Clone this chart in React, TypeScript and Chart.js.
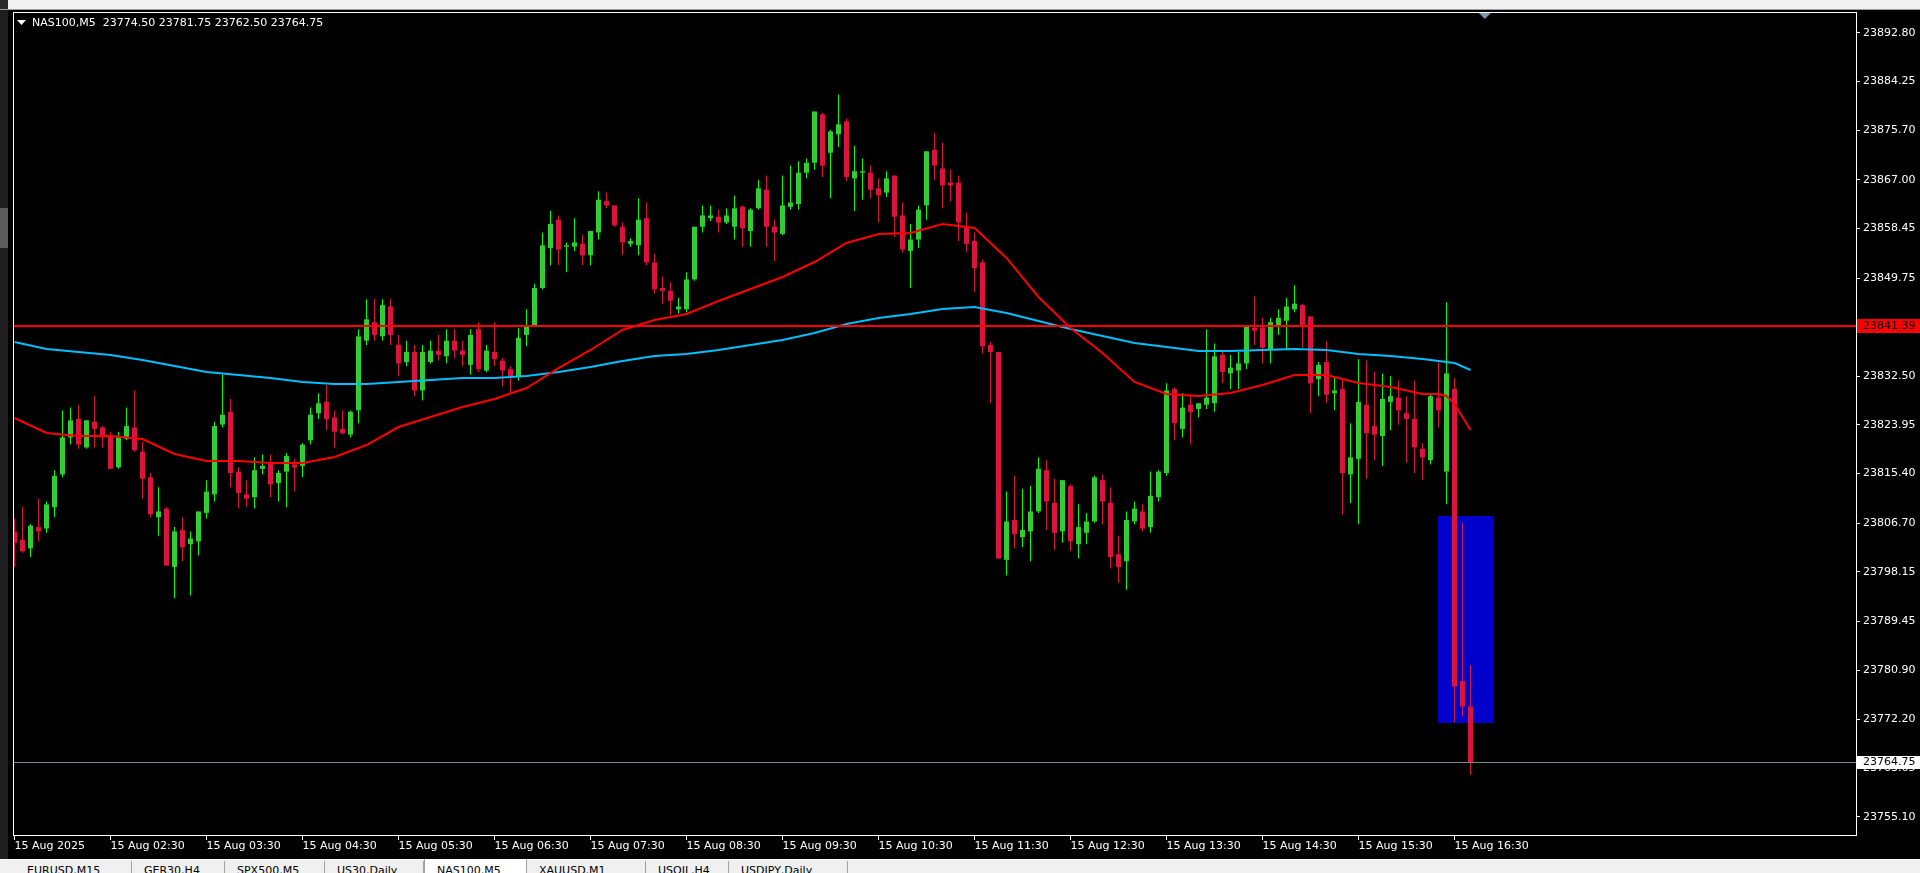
import React, { useEffect, useRef } from 'react';
import { Chart, registerables } from 'chart.js';

Chart.register(...registerables);

// ---- NAS100 M5 candles, 15 Aug 2025 01:30 -> 16:40 (index 0 = 01:30) ----
const opens = [
  23805.25, 23803.75, 23802.25, 23806.0, 23805.75, 23809.5, 23815.25, 23821.75, 23825.0, 23820.0, 23824.5, 23823.5,
  23822.0, 23816.5, 23821.5, 23823.5, 23819.25, 23814.75, 23807.75, 23809.25, 23799.0, 23805.5, 23803.0, 23803.5,
  23808.5, 23811.75, 23824.0, 23826.25, 23815.75, 23811.75, 23811.25, 23816.25, 23817.25, 23813.75, 23815.75, 23817.0,
  23816.75, 23821.25, 23826.0, 23828.0, 23825.25, 23823.25, 23822.25, 23826.5, 23838.75, 23842.0, 23839.5, 23844.75,
  23838.0, 23835.0, 23836.75, 23830.0, 23835.0, 23837.0, 23836.0, 23838.75, 23837.0, 23834.5, 23840.75, 23833.5,
  23836.75, 23835.25, 23833.75, 23832.5, 23839.75, 23841.5, 23848.0, 23855.0, 23860.0, 23855.25, 23855.25, 23855.75,
  23853.75, 23857.75, 23863.25, 23862.5, 23858.75, 23855.75, 23855.5, 23860.25, 23852.5, 23848.0, 23847.5, 23844.25,
  23844.25, 23849.5, 23858.75, 23860.25, 23860.5, 23859.5, 23858.75, 23862.25, 23858.0, 23862.0, 23865.25, 23858.75,
  23857.5, 23862.25, 23862.75, 23868.25, 23870.0, 23878.5, 23871.75, 23875.0, 23877.25, 23867.25, 23868.25, 23868.25,
  23865.5, 23864.75, 23867.75, 23860.75, 23854.5, 23856.5, 23862.5, 23872.25, 23869.0, 23866.5, 23866.5, 23858.75,
  23856.25, 23852.5, 23838.0, 23836.75, 23800.25, 23807.25, 23804.25, 23805.25, 23808.75, 23816.0, 23810.25, 23805.25,
  23813.25, 23803.0, 23805.0, 23807.0, 23814.25, 23810.25, 23801.25, 23800.0, 23807.0, 23808.75, 23806.0, 23811.25,
  23815.5, 23830.25, 23823.25, 23827.5, 23826.75, 23827.5, 23827.75, 23836.25, 23833.0, 23833.5, 23834.75, 23841.0,
  23841.0, 23837.25, 23841.5, 23842.25, 23844.25, 23845.0, 23843.0, 23832.0, 23835.0, 23829.5, 23830.25, 23815.25,
  23818.0, 23827.5, 23823.75, 23822.0, 23828.0, 23828.75, 23826.0, 23825.0, 23819.75, 23817.75, 23828.75, 23815.75,
  23830.25, 23779.0, 23774.5,
];
const highs = [
  23807.5, 23809.5, 23806.5, 23811.0, 23810.5, 23816.0, 23826.5, 23827.0, 23827.5, 23824.75, 23829.0, 23823.75,
  23822.75, 23822.75, 23827.0, 23830.0, 23821.0, 23815.5, 23813.0, 23809.5, 23806.0, 23807.75, 23805.25, 23808.75,
  23814.25, 23824.5, 23832.75, 23828.5, 23816.5, 23814.25, 23818.25, 23818.75, 23818.75, 23816.0, 23819.0, 23818.0,
  23820.75, 23827.0, 23829.5, 23831.0, 23826.5, 23826.5, 23826.5, 23840.75, 23846.0, 23846.0, 23846.0, 23846.0,
  23839.75, 23838.75, 23838.0, 23838.0, 23838.75, 23839.75, 23840.75, 23840.75, 23838.75, 23840.75, 23842.0, 23838.0,
  23842.0, 23835.75, 23834.25, 23841.0, 23844.25, 23848.75, 23857.75, 23861.5, 23860.75, 23856.0, 23860.25, 23857.25,
  23858.0, 23865.0, 23864.75, 23862.5, 23859.5, 23856.75, 23863.75, 23863.0, 23854.0, 23850.0, 23849.0, 23846.25,
  23850.75, 23858.75, 23862.5, 23862.5, 23861.75, 23862.0, 23864.25, 23862.5, 23862.0, 23867.0, 23867.75, 23860.0,
  23867.75, 23869.5, 23870.25, 23870.75, 23879.0, 23878.75, 23875.75, 23882.0, 23877.75, 23873.0, 23870.75, 23869.5,
  23867.25, 23868.5, 23867.75, 23863.0, 23859.25, 23862.5, 23872.0, 23875.25, 23873.5, 23868.75, 23867.75, 23861.25,
  23857.75, 23853.0, 23838.5, 23836.75, 23812.25, 23815.0, 23812.75, 23813.25, 23818.25, 23817.75, 23814.5, 23814.25,
  23813.5, 23810.0, 23808.5, 23815.0, 23815.25, 23813.0, 23804.5, 23808.75, 23810.5, 23810.0, 23815.75, 23816.0,
  23831.25, 23830.5, 23829.5, 23829.25, 23827.75, 23840.75, 23838.25, 23836.75, 23836.25, 23836.75, 23841.25, 23846.5,
  23842.75, 23842.75, 23844.25, 23846.25, 23848.5, 23845.25, 23843.0, 23835.0, 23838.75, 23832.25, 23832.0, 23824.25,
  23835.5, 23835.25, 23833.25, 23833.0, 23832.5, 23831.75, 23829.0, 23831.75, 23820.75, 23829.25, 23835.25, 23845.5,
  23832.25, 23806.75, 23781.75,
];
const lows = [
  23799.0, 23801.5, 23800.75, 23803.5, 23805.0, 23807.75, 23814.75, 23820.5, 23819.75, 23819.75, 23820.0, 23820.0,
  23816.25, 23816.25, 23821.25, 23819.25, 23811.0, 23807.75, 23804.5, 23799.25, 23793.5, 23800.0, 23794.0, 23801.0,
  23807.5, 23810.5, 23823.5, 23813.0, 23809.25, 23809.5, 23809.25, 23815.25, 23811.25, 23810.5, 23809.5, 23812.25,
  23814.75, 23820.5, 23825.0, 23823.0, 23820.0, 23822.25, 23821.75, 23824.25, 23838.0, 23838.75, 23838.75, 23838.0,
  23832.5, 23834.25, 23829.0, 23828.25, 23834.75, 23835.25, 23834.75, 23835.75, 23834.25, 23832.75, 23833.25, 23833.25,
  23834.25, 23830.75, 23829.5, 23831.75, 23837.75, 23841.25, 23847.75, 23852.0, 23852.0, 23850.75, 23854.5, 23852.0,
  23852.0, 23856.5, 23862.0, 23858.75, 23853.75, 23855.25, 23853.75, 23852.0, 23847.0, 23845.25, 23843.25, 23843.5,
  23843.75, 23849.25, 23857.75, 23859.75, 23857.75, 23859.25, 23856.5, 23855.25, 23855.25, 23861.75, 23855.25, 23852.75,
  23857.25, 23861.75, 23861.75, 23867.25, 23868.75, 23867.5, 23863.75, 23872.75, 23866.75, 23861.5, 23863.5, 23863.75,
  23859.5, 23864.0, 23857.0, 23854.25, 23848.0, 23855.0, 23860.0, 23867.0, 23862.0, 23863.25, 23856.25, 23854.25,
  23847.25, 23836.5, 23827.75, 23800.5, 23797.5, 23802.25, 23802.5, 23800.0, 23808.5, 23805.5, 23802.0, 23803.25,
  23801.75, 23800.5, 23803.0, 23806.75, 23806.5, 23798.75, 23796.25, 23795.0, 23806.5, 23805.25, 23805.0, 23810.5,
  23815.0, 23821.25, 23821.75, 23820.5, 23825.25, 23826.75, 23826.25, 23831.25, 23830.25, 23830.25, 23833.75, 23838.0,
  23834.75, 23834.75, 23839.75, 23837.25, 23843.75, 23837.5, 23826.0, 23829.0, 23827.75, 23826.5, 23808.25, 23810.25,
  23806.5, 23814.5, 23817.75, 23816.75, 23823.0, 23824.0, 23817.25, 23815.5, 23814.25, 23817.0, 23823.5, 23810.0,
  23771.75, 23772.75, 23762.5,
];
const closes = [
  23803.25, 23801.75, 23806.25, 23805.25, 23810.0, 23815.0, 23821.75, 23824.75, 23820.5, 23824.75, 23823.25, 23821.75,
  23816.25, 23821.75, 23823.75, 23819.5, 23814.5, 23808.25, 23808.75, 23799.25, 23805.25, 23802.5, 23804.0, 23808.75,
  23812.25, 23823.75, 23825.75, 23815.5, 23812.0, 23811.0, 23816.0, 23816.75, 23813.5, 23815.5, 23818.5, 23816.5,
  23820.5, 23825.75, 23827.75, 23825.0, 23822.75, 23822.5, 23826.25, 23839.5, 23842.5, 23839.75, 23845.0, 23839.75,
  23834.75, 23836.75, 23830.0, 23836.75, 23837.0, 23836.25, 23838.75, 23837.0, 23836.25, 23839.75, 23833.75, 23837.0,
  23835.5, 23833.5, 23832.5, 23839.25, 23841.25, 23848.0, 23855.5, 23859.25, 23854.75, 23855.5, 23856.0, 23853.75,
  23858.0, 23863.5, 23862.5, 23859.0, 23856.0, 23856.25, 23860.0, 23852.5, 23847.75, 23847.5, 23845.75, 23844.75,
  23849.5, 23858.75, 23860.75, 23860.75, 23859.5, 23860.75, 23862.0, 23858.5, 23861.75, 23865.5, 23858.75, 23857.75,
  23862.5, 23863.0, 23868.25, 23870.0, 23879.0, 23869.5, 23875.5, 23876.75, 23867.5, 23868.5, 23868.5, 23865.25,
  23864.25, 23867.25, 23860.5, 23854.75, 23856.5, 23861.75, 23872.0, 23869.5, 23866.0, 23866.0, 23859.5, 23855.75,
  23851.5, 23837.75, 23836.75, 23800.5, 23807.0, 23804.75, 23805.5, 23808.75, 23816.25, 23810.5, 23805.0, 23814.25,
  23803.5, 23806.0, 23807.0, 23814.75, 23810.5, 23800.75, 23799.0, 23807.25, 23809.25, 23805.75, 23811.5, 23815.75,
  23830.0, 23824.25, 23827.0, 23826.25, 23827.75, 23828.75, 23836.0, 23833.25, 23834.0, 23834.75, 23841.25, 23840.5,
  23837.5, 23842.0, 23842.75, 23844.75, 23845.25, 23841.5, 23831.25, 23834.5, 23829.25, 23830.0, 23815.5, 23818.25,
  23828.0, 23822.5, 23822.25, 23828.5, 23829.0, 23826.5, 23825.0, 23820.0, 23818.25, 23829.0, 23826.5, 23833.0,
  23778.0, 23774.5, 23764.75,
];

// ---- moving averages (candle index, price) ----
const redMaIdx = [0, 4, 8, 12, 16, 20, 24, 28, 32, 36, 40, 44, 48, 52, 56, 60, 64, 68, 72, 76, 80, 84, 88, 92, 96, 100,
  104, 108, 112, 116, 120, 124, 128, 132, 136, 140, 144, 148, 152, 156, 160, 164, 168, 172, 176, 178, 179, 180, 181, 182];
const redMaVals = [23825.16, 23822.53, 23822.0, 23822.0, 23821.47, 23818.84, 23817.61, 23817.61, 23817.26, 23817.26,
  23818.31, 23820.42, 23823.58, 23825.34, 23827.09, 23828.5, 23830.43, 23833.94, 23837.11, 23840.62, 23842.38, 23843.43,
  23845.71, 23847.82, 23849.93, 23852.56, 23855.9, 23857.48, 23857.66, 23859.24, 23858.53, 23853.27, 23846.42, 23840.97,
  23836.58, 23831.49, 23829.38, 23829.03, 23829.55, 23830.96, 23832.71, 23832.71, 23831.31, 23830.61, 23829.38, 23829.38,
  23829.03, 23827.62, 23825.34, 23823.05];
const blueMaIdx = [0, 4, 8, 12, 16, 20, 24, 28, 32, 36, 40, 44, 48, 52, 56, 60, 64, 68, 72, 76, 80, 84, 88, 92, 96, 100,
  104, 108, 112, 116, 120, 124, 128, 132, 136, 140, 144, 148, 152, 156, 160, 164, 168, 172, 176, 180, 182];
const blueMaVals = [23838.51, 23837.28, 23836.75, 23836.23, 23835.35, 23834.3, 23833.24, 23832.71, 23832.19, 23831.49,
  23831.13, 23831.13, 23831.49, 23831.84, 23832.19, 23832.19, 23832.54, 23833.24, 23834.12, 23835.17, 23836.05, 23836.4,
  23837.11, 23837.98, 23838.86, 23840.09, 23841.67, 23842.73, 23843.43, 23844.31, 23844.66, 23843.61, 23842.2, 23840.79,
  23839.56, 23838.34, 23837.63, 23836.93, 23836.93, 23837.11, 23837.28, 23837.11, 23836.4, 23836.05, 23835.53, 23834.82,
  23833.59];

// ---- axes ----
const yTickValues = [23892.8, 23884.25, 23875.7, 23867.0, 23858.45, 23849.75, 23841.1, 23832.5, 23823.95, 23815.4,
  23806.7, 23798.15, 23789.45, 23780.9, 23772.2, 23763.65, 23755.1];
const xTickIdx = [0, 12, 24, 36, 48, 60, 72, 84, 96, 108, 120, 132, 144, 156, 168, 180];
const xTickLabels = ['15 Aug 2025', '15 Aug 02:30', '15 Aug 03:30', '15 Aug 04:30', '15 Aug 05:30', '15 Aug 06:30',
  '15 Aug 07:30', '15 Aug 08:30', '15 Aug 09:30', '15 Aug 10:30', '15 Aug 11:30', '15 Aug 12:30', '15 Aug 13:30',
  '15 Aug 14:30', '15 Aug 15:30', '15 Aug 16:30'];
const yMin = 23751.75;
const yMax = 23896.47;
const xMin = -0.1875;
const xMax = 230.3125;

// ---- objects ----
const headerText = 'NAS100,M5  23774.50 23781.75 23762.50 23764.75';
const levelPrice = 23841.39;
const bidPrice = 23764.75;
const zoneStartIdx = 177.9;
const zoneEndIdx = 184.9;
const zoneHigh = 23808.0;
const zoneLow = 23771.6;
const shiftMarkerIdx = 183.8;

const tabLabels = ['EURUSD,M15', 'GER30,H4', 'SPX500,M5', 'US30,Daily', 'NAS100,M5', 'XAUUSD,M1', 'USOIL,H4', 'USDJPY,Daily'];
const activeTab = 4;

const FONT = 'DejaVu Sans';
const BULL_BODY = '#32cd32';
const BULL_WICK = '#00ff00';
const BEAR = '#dc143c';

const overlayPlugin = {
  id: 'mt4overlay',
  beforeDraw(chart: any) {
    const { ctx, width, height } = chart;
    ctx.save();
    ctx.fillStyle = '#000000';
    ctx.fillRect(0, 0, width, height);
    ctx.restore();
  },
  beforeDatasetsDraw(chart: any) {
    const { ctx, chartArea: a, scales } = chart;
    const x = scales.x;
    const y = scales.y;
    ctx.save();
    ctx.beginPath();
    ctx.rect(a.left, a.top, a.right - a.left, a.bottom - a.top);
    ctx.clip();
    const x1 = Math.round(x.getPixelForValue(zoneStartIdx));
    const x2 = Math.round(x.getPixelForValue(zoneEndIdx));
    const y1 = Math.round(y.getPixelForValue(zoneHigh));
    const y2 = Math.round(y.getPixelForValue(zoneLow));
    ctx.fillStyle = '#0000cd';
    ctx.fillRect(x1, y1, x2 - x1, y2 - y1);
    ctx.restore();
  },
  afterDatasetsDraw(chart: any) {
    const { ctx, chartArea: a, scales } = chart;
    const y = scales.y;
    ctx.save();
    const ly = Math.round(y.getPixelForValue(levelPrice));
    ctx.fillStyle = '#ff0000';
    ctx.fillRect(a.left, ly - 1, a.right - a.left, 2);
    const by = Math.round(y.getPixelForValue(bidPrice));
    ctx.fillStyle = '#778899';
    ctx.fillRect(a.left, by, a.right - a.left, 1);
    ctx.restore();
  },
  afterDraw(chart: any) {
    const { ctx, chartArea: a, scales, width } = chart;
    const y = scales.y;
    const x = scales.x;
    ctx.save();
    // frame
    ctx.fillStyle = '#ffffff';
    ctx.fillRect(a.left, a.top, a.right - a.left, 1);
    ctx.fillRect(a.left, a.bottom - 1, a.right - a.left, 1);
    ctx.fillRect(a.left, a.top, 1, a.bottom - a.top);
    ctx.fillRect(a.right - 1, a.top, 1, a.bottom - a.top);

    ctx.font = `11px "${FONT}"`;
    ctx.textBaseline = 'middle';
    ctx.textAlign = 'left';
    // level label
    const ly = Math.round(y.getPixelForValue(levelPrice));
    ctx.fillStyle = '#ff0000';
    ctx.fillRect(a.right, ly - 7, width - a.right, 14);
    ctx.fillStyle = '#000000';
    ctx.fillText(levelPrice.toFixed(2), a.right + 6, ly);
    // bid label
    const by = Math.round(y.getPixelForValue(bidPrice));
    ctx.fillStyle = '#ffffff';
    ctx.fillRect(a.right, by - 6, width - a.right, 13);
    ctx.fillStyle = '#000000';
    ctx.fillText(bidPrice.toFixed(2), a.right + 6, by);

    // header
    ctx.fillStyle = '#ffffff';
    ctx.beginPath();
    ctx.moveTo(a.left + 4, a.top + 8);
    ctx.lineTo(a.left + 13, a.top + 8);
    ctx.lineTo(a.left + 8.5, a.top + 13);
    ctx.closePath();
    ctx.fill();
    ctx.fillText(headerText, a.left + 19, a.top + 11);

    // chart shift marker
    const sx = x.getPixelForValue(shiftMarkerIdx);
    ctx.fillStyle = '#8293a8';
    ctx.beginPath();
    ctx.moveTo(sx - 6, a.top + 1);
    ctx.lineTo(sx + 6, a.top + 1);
    ctx.lineTo(sx, a.top + 7);
    ctx.closePath();
    ctx.fill();
    ctx.restore();
  },
};

export default function App() {
  const canvasRef = useRef<HTMLCanvasElement | null>(null);

  useEffect(() => {
    document.body.style.margin = '0';
    document.body.style.background = '#000';
    const canvas = canvasRef.current;
    if (!canvas) return;

    const idx = opens.map((_, i) => i);
    const bull = idx.map((i) => closes[i] >= opens[i]);

    const chart = new Chart(canvas, {
      type: 'bar',
      data: {
        datasets: [
          {
            type: 'bar',
            data: idx.map((i) => ({ x: i, y: [lows[i], highs[i]] })) as any,
            backgroundColor: idx.map((i) => (bull[i] ? BULL_WICK : BEAR)),
            barThickness: 1,
            grouped: false,
            borderWidth: 0,
            inflateAmount: 0,
            order: 5,
          } as any,
          {
            type: 'bar',
            data: idx.map((i) => ({ x: i, y: [opens[i], closes[i]] })) as any,
            backgroundColor: idx.map((i) => (bull[i] ? BULL_BODY : BEAR)),
            barThickness: 5,
            grouped: false,
            borderWidth: 0,
            inflateAmount: 0,
            minBarLength: 1,
            order: 4,
          } as any,
          {
            type: 'line',
            data: blueMaIdx.map((v, k) => ({ x: v, y: blueMaVals[k] })) as any,
            borderColor: '#00bfff',
            borderWidth: 2,
            pointRadius: 0,
            tension: 0,
            order: 3,
          } as any,
          {
            type: 'line',
            data: redMaIdx.map((v, k) => ({ x: v, y: redMaVals[k] })) as any,
            borderColor: '#ff0000',
            borderWidth: 2,
            pointRadius: 0,
            tension: 0,
            order: 2,
          } as any,
        ],
      },
      options: {
        animation: false,
        responsive: false,
        devicePixelRatio: 1,
        events: [],
        layout: { padding: { left: 13, top: 12, right: 0, bottom: 0 } },
        plugins: { legend: { display: false }, tooltip: { enabled: false } },
        scales: {
          x: {
            type: 'linear',
            min: xMin,
            max: xMax,
            offset: false,
            grid: { display: true, offset: false, drawOnChartArea: false, drawTicks: true, tickLength: 4, color: '#ffffff' },
            border: { display: false },
            ticks: {
              autoSkip: false,
              maxRotation: 0,
              minRotation: 0,
              align: 'start',
              padding: 0,
              color: '#ffffff',
              font: { family: FONT, size: 11 },
              callback: (_v: any, k: number) => xTickLabels[k],
            },
            afterBuildTicks: (s: any) => {
              s.ticks = xTickIdx.map((v) => ({ value: v }));
            },
            afterFit: (s: any) => {
              s.height = 37;
            },
          } as any,
          y: {
            type: 'linear',
            position: 'right',
            min: yMin,
            max: yMax,
            beginAtZero: false,
            grid: { display: true, drawOnChartArea: false, drawTicks: true, tickLength: 3, color: '#ffffff' },
            border: { display: false },
            ticks: {
              autoSkip: false,
              padding: 3,
              color: '#ffffff',
              font: { family: FONT, size: 11 },
              callback: (v: any) => Number(v).toFixed(2),
            },
            afterBuildTicks: (s: any) => {
              s.ticks = yTickValues.map((v) => ({ value: v }));
            },
            afterFit: (s: any) => {
              s.width = 63;
            },
          } as any,
        },
      } as any,
      plugins: [overlayPlugin],
    });

    return () => {
      chart.destroy();
    };
  }, []);

  const tabStarts = [15, 132, 225, 325, 424, 527, 646, 729];
  const tabEnds = [132, 225, 325, 424, 527, 646, 729, 848];

  return (
    <div style={{ position: 'fixed', left: 0, top: 0, width: 1920, height: 873, background: '#000', overflow: 'hidden' }}>
      <canvas ref={canvasRef} width={1920} height={873} style={{ position: 'absolute', left: 0, top: 0 }} />
      {/* top toolbar remnant */}
      <div style={{ position: 'absolute', left: 0, top: 0, width: 1920, height: 9, background: '#f0f0f0' }} />
      <div style={{ position: 'absolute', left: 0, top: 9, width: 1920, height: 1, background: '#a0a0a0' }} />
      <div style={{ position: 'absolute', left: 0, top: 0, width: 8, height: 9, background: '#2a2a2a' }} />
      {/* left window strip */}
      <div style={{ position: 'absolute', left: 0, top: 10, width: 8, height: 850, background: '#1e1e1e' }} />
      <div style={{ position: 'absolute', left: 0, top: 208, width: 8, height: 40, background: '#5c5c5c' }} />
      {/* bottom tab bar */}
      <div style={{ position: 'absolute', left: 0, top: 859, width: 1920, height: 1, background: '#ffffff' }} />
      <div style={{ position: 'absolute', left: 0, top: 860, width: 1920, height: 13, background: '#f0f0f0' }} />
      {tabLabels.map((t, k) => (
        <div
          key={t}
          style={{
            position: 'absolute',
            left: tabStarts[k],
            top: k === activeTab ? 859 : 861,
            width: tabEnds[k] - tabStarts[k],
            height: 20,
            boxSizing: 'border-box',
            background: k === activeTab ? '#ffffff' : 'transparent',
            borderRight: '1px solid #a0a0a0',
            borderLeft: k === activeTab ? '1px solid #a0a0a0' : 'none',
            fontFamily: FONT,
            fontSize: 11,
            color: '#000',
            paddingLeft: 12,
            paddingTop: k === activeTab ? 5 : 3,
            whiteSpace: 'nowrap',
          }}
        >
          {t}
        </div>
      ))}
    </div>
  );
}
